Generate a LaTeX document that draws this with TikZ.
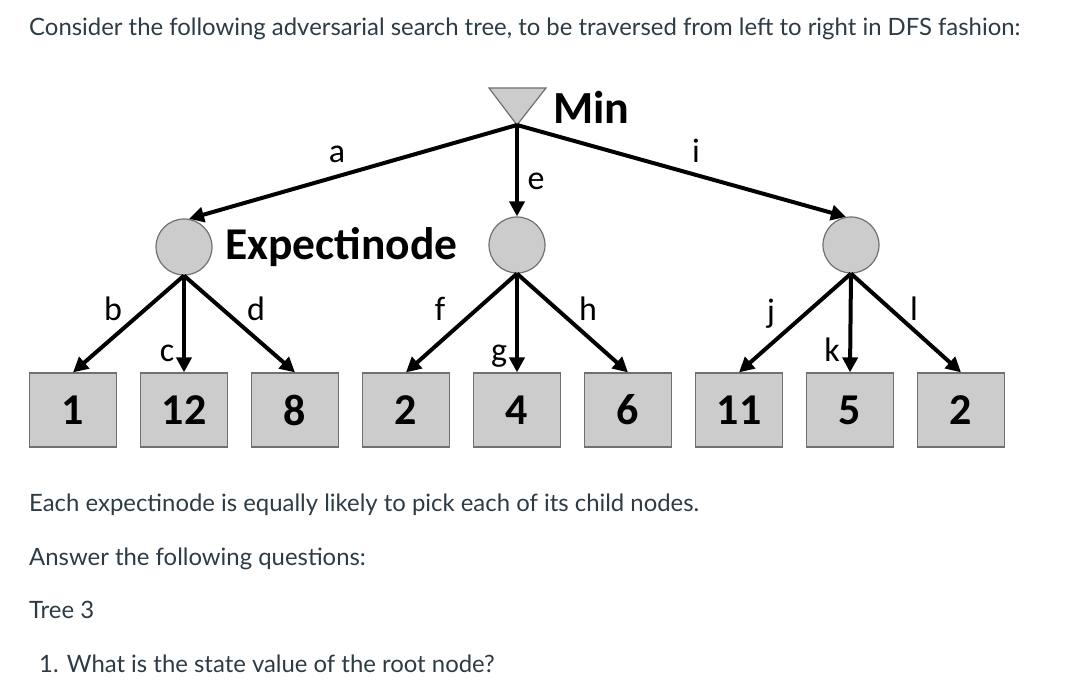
\documentclass[tikz,border=0pt]{standalone}
\usepackage{fontspec}
\setmainfont{Lato}
\newfontfamily\calib{Carlito}
\usetikzlibrary{arrows.meta, positioning}
\definecolor{txtgray}{HTML}{2D3B45}
\definecolor{nodegray}{HTML}{CCCCCC}
\definecolor{bordergray}{HTML}{707070}

\begin{document}
\begin{tikzpicture}[x=1pt, y=-1pt,
    chance/.style={circle, draw=bordergray, fill=nodegray, line width=1.2pt, minimum size=56pt, inner sep=0pt},
    leaf/.style={rectangle, draw=bordergray, fill=nodegray, line width=1.2pt, minimum width=87pt, minimum height=74pt, inner sep=0pt, font=\calib\fontsize{44}{44}\selectfont\bfseries},
    branch/.style={line width=4pt, -{Triangle[length=15pt, width=15pt]}},
    lbl/.style={anchor=base, font=\calib\fontsize{34}{34}\selectfont, inner sep=0pt},
    para/.style={anchor=base west, text=txtgray, font=\fontsize{23.9}{28}\selectfont, inner sep=0pt}]
    \useasboundingbox (0,0) rectangle (1082,695);

    % Question text
    \node[para] (intro) at (29,36) {Consider the following adversarial search tree, to be traversed from left to right in DFS fashion:};

    % Min node
    \coordinate (root) at (517,125);
    \draw[bordergray, fill=nodegray, line width=1.2pt] (489,88) -- (546,88) -- (root) -- cycle;
    \node[anchor=west, inner sep=0pt, font=\calib\fontsize{46}{46}\selectfont\bfseries] (minlbl) at (553,107) {Min};

    % Expectinodes
    \node[chance] (ea) at (184,247) {};
    \node[chance] (eb) at (517,245) {};
    \node[chance] (ec) at (851,245) {};
    \node[anchor=west, inner sep=0pt, font=\calib\fontsize{45.5}{46}\selectfont\bfseries] (explbl) at (225,247) {Expectinode};

    % Leaves
    \foreach \v [count=\i] in {1,12,8,2,4,6,11,5,2}
        \node[leaf] (l\i) at ({73+111*(\i-1)},410) {\v};

    % Branches from the root
    \draw[branch] (root) -- (ea.80);
    \draw[branch] (root) -- (eb.north);
    \draw[branch] (root) -- (ec.100);
    \node[lbl] (la) at (337,163) {a};
    \node[lbl] (le) at (536,190) {e};
    \node[lbl] (li) at (696,163) {i};

    % Branches from the expectinodes
    \draw[branch] (ea.south) -- (l1.north);
    \draw[branch] (ea.south) -- (l2.north);
    \draw[branch] (ea.south) -- (l3.north);
    \draw[branch] (eb.south) -- (l4.north);
    \draw[branch] (eb.south) -- (l5.north);
    \draw[branch] (eb.south) -- (l6.north);
    \draw[branch] (ec.south) -- (l7.north);
    \draw[branch] (ec.south) -- (l8.north);
    \draw[branch] (ec.south) -- (l9.north);
    \node[lbl] (lb) at (113,320) {b};
    \node[lbl] (lc) at (167,361) {c};
    \node[lbl] (ld) at (256,320) {d};
    \node[lbl] (lf) at (440,320) {f};
    \node[lbl] (lg) at (499,361) {g};
    \node[lbl] (lh) at (588,320) {h};
    \node[lbl] (lj) at (771,322) {j};
    \node[lbl] (lk) at (832,361) {k};
    \node[lbl] (ll) at (914,320) {l};

    % Text below
    \node[para] (note) at (29,511) {Each expectinode is equally likely to pick each of its child nodes.};
    \node[para] (ask) at (29,565) {Answer the following questions:};
    \node[para] (tree) at (29,618) {Tree 3};
    \node[para] (q1) at (39,672) {1. What is the state value of the root node?};
\end{tikzpicture}
\end{document}
